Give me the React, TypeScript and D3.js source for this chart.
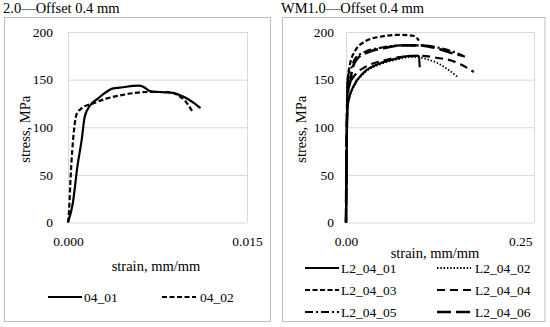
import React, { useEffect, useRef } from 'react';
import * as d3 from 'd3';

// left panel: 2.0 - Offset 0.4 mm
const strain0401 = [0, 0.0004, 0.0008, 0.00115, 0.0014, 0.0018, 0.0025, 0.0031, 0.0037, 0.0046, 0.0059, 0.0063, 0.0069, 0.0077, 0.0088, 0.0095, 0.01, 0.0106, 0.0111];
const stress0401 = [0, 20, 60, 87, 111, 122, 130, 136, 140.5, 142, 143.6, 142.6, 138, 137, 136, 133, 130, 125, 120];
const strain0402 = [0, 0.0001, 0.00022, 0.00036, 0.00053, 0.00073, 0.00115, 0.0021, 0.0032, 0.0046, 0.0066, 0.0083, 0.009, 0.0094, 0.0098, 0.0101, 0.0105];
const stress0402 = [0, 15, 48, 76, 100, 114, 120, 125, 130, 134, 137, 137, 135, 132, 128, 123, 115];

// right panel: WM1.0 - Offset 0.4 mm
const strainL01 = [0, 0.001, 0.002, 0.004, 0.01, 0.023, 0.045, 0.067, 0.085, 0.097, 0.098];
const stressL01 = [0, 80, 120, 130, 143, 157, 167, 172, 175, 175, 163];
const strainL02 = [0, 0.001, 0.002, 0.004, 0.01, 0.023, 0.045, 0.067, 0.09, 0.105, 0.12, 0.135, 0.148];
const stressL02 = [0, 80, 120, 129, 142, 156, 166, 171, 174, 172, 168, 161, 153];
const strainL03 = [0, 0.001, 0.0025, 0.005, 0.012, 0.025, 0.045, 0.07, 0.09, 0.097];
const stressL03 = [0, 90, 150, 165, 180, 190, 195, 197, 196, 191];
const strainL04 = [0, 0.001, 0.0025, 0.005, 0.012, 0.025, 0.05, 0.075, 0.1, 0.12, 0.14, 0.155, 0.17];
const stressL04 = [0, 90, 135, 145, 155, 163, 170, 174, 175, 173, 170, 165, 158];
const strainL05 = [0, 0.001, 0.003, 0.006, 0.012, 0.025, 0.05, 0.075, 0.1, 0.12, 0.14, 0.158];
const stressL05 = [0, 100, 155, 160, 172, 179, 184, 186, 186, 184, 180, 174];
const strainL06 = [0, 0.001, 0.003, 0.005, 0.008, 0.015, 0.03, 0.05, 0.075, 0.098, 0.12, 0.14, 0.155];
const stressL06 = [0, 100, 153, 145, 160, 172, 179, 183, 186, 186, 183, 178, 175];

const stressTicks = [0, 50, 100, 150, 200];
const leftStrainTicks = [0, 0.015];
const rightStrainTicks = [0, 0.25];

interface Series {
  name: string;
  strain: number[];
  stress: number[];
  dash: string;
  width: number;
}

interface Panel {
  title: string;
  box: [number, number, number, number];
  plot: { left: number; right: number; top: number; bottom: number };
  xTicks: number[];
  xFormat: string;
  yPad: number;
  lastAnchor: string;
  yTitleX: number;
  xTitle: [number, number];
  series: Series[];
  legend: [number, number, number][]; // line start x, text x, y
  legendLen: number;
}

const panels: Panel[] = [
  {
    title: '2.0\u2014Offset 0.4 mm',
    box: [4.5, 17.5, 266, 304],
    plot: { left: 68, right: 247, top: 32, bottom: 222.5 },
    xTicks: leftStrainTicks,
    xFormat: '.3f',
    yPad: 15,
    lastAnchor: 'middle',
    yTitleX: 25,
    xTitle: [156, 271],
    series: [
      { name: '04_01', strain: strain0401, stress: stress0401, dash: '', width: 2.2 },
      { name: '04_02', strain: strain0402, stress: stress0402, dash: '5,2.5', width: 2.2 },
    ],
    legend: [
      [48, 84, 297],
      [162, 200, 297],
    ],
    legendLen: 34,
  },
  {
    title: 'WM1.0\u2014Offset 0.4 mm',
    box: [282.5, 17.5, 262.5, 304],
    plot: { left: 346, right: 534, top: 32, bottom: 222.5 },
    xTicks: rightStrainTicks,
    xFormat: '.2f',
    yPad: 12,
    lastAnchor: 'end',
    yTitleX: 301,
    xTitle: [435, 258],
    series: [
      { name: 'L2_04_01', strain: strainL01, stress: stressL01, dash: '', width: 2.2 },
      { name: 'L2_04_02', strain: strainL02, stress: stressL02, dash: '1.5,1.8', width: 1.8 },
      { name: 'L2_04_03', strain: strainL03, stress: stressL03, dash: '5,2.5', width: 2.2 },
      { name: 'L2_04_04', strain: strainL04, stress: stressL04, dash: '8,5', width: 2.2 },
      { name: 'L2_04_05', strain: strainL05, stress: stressL05, dash: '8,3,2,3', width: 2.2 },
      { name: 'L2_04_06', strain: strainL06, stress: stressL06, dash: '14,5', width: 2.6 },
    ],
    legend: [
      [305, 341, 268],
      [437, 475, 268],
      [305, 341, 290],
      [437, 475, 290],
      [305, 341, 312],
      [437, 475, 312],
    ],
    legendLen: 34,
  },
];

const FONT = '"Liberation Serif", "Times New Roman", serif';

const App: React.FC = () => {
  const ref = useRef<SVGSVGElement>(null);

  useEffect(() => {
    const svg = d3.select(ref.current!);
    svg.selectAll('*').remove();
    svg.append('rect').attr('width', 550).attr('height', 327).attr('fill', '#fff');

    panels.forEach((p) => {
      const g = svg.append('g').style('font-family', FONT);

      g.append('rect')
        .attr('x', p.box[0])
        .attr('y', p.box[1])
        .attr('width', p.box[2])
        .attr('height', p.box[3])
        .attr('fill', 'none')
        .attr('stroke', '#bfbfbf')
        .attr('stroke-width', 1);

      g.append('text')
        .attr('x', p.box[0] - 1.5)
        .attr('y', 13)
        .attr('font-size', 14.5)
        .attr('fill', '#000')
        .text(p.title);

      const x = d3
        .scaleLinear()
        .domain([p.xTicks[0], p.xTicks[p.xTicks.length - 1]])
        .range([p.plot.left, p.plot.right]);
      const y = d3.scaleLinear().domain([0, 200]).range([p.plot.bottom, p.plot.top]);
      const w = p.plot.right - p.plot.left;
      const h = p.plot.bottom - p.plot.top;

      // gridlines
      const yGrid = g
        .append('g')
        .attr('transform', `translate(${p.plot.left},0)`)
        .call(d3.axisLeft(y).tickValues(stressTicks).tickSize(-w).tickFormat(() => ''));
      yGrid.select('.domain').remove();
      yGrid.selectAll('line').attr('stroke', '#d9d9d9');

      const xGrid = g
        .append('g')
        .attr('transform', `translate(0,${p.plot.bottom})`)
        .call(d3.axisBottom(x).tickValues(p.xTicks).tickSize(-h).tickFormat(() => ''));
      xGrid.select('.domain').remove();
      xGrid.selectAll('line').attr('stroke', '#d9d9d9');

      // y labels
      const yAxis = g
        .append('g')
        .attr('transform', `translate(${p.plot.left},0)`)
        .call(d3.axisLeft(y).tickValues(stressTicks).tickSize(0).tickPadding(p.yPad));
      yAxis.select('.domain').remove();
      yAxis.selectAll('text').attr('font-size', 13.5).attr('font-family', FONT).attr('fill', '#000');

      // x labels
      const xAxis = g
        .append('g')
        .attr('transform', `translate(0,${p.plot.bottom})`)
        .call(
          d3
            .axisBottom(x)
            .tickValues(p.xTicks)
            .tickSize(0)
            .tickPadding(14)
            .tickFormat((d) => d3.format(p.xFormat)(d as number))
        );
      xAxis.select('.domain').remove();
      xAxis
        .selectAll('text')
        .attr('font-size', 13.5)
        .attr('font-family', FONT)
        .attr('fill', '#000')
        .attr('text-anchor', (_d, i) => (i === p.xTicks.length - 1 ? p.lastAnchor : 'middle'))
        .attr('dx', (_d, i) => (i === p.xTicks.length - 1 && p.lastAnchor === 'end' ? -2 : 0));

      // axis titles
      g.append('text')
        .attr('transform', `translate(${p.yTitleX},${(p.plot.top + p.plot.bottom) / 2 + 2}) rotate(-90)`)
        .attr('text-anchor', 'middle')
        .attr('dy', '0.35em')
        .attr('font-size', 14.5)
        .text('stress, MPa');
      g.append('text')
        .attr('x', p.xTitle[0])
        .attr('y', p.xTitle[1])
        .attr('text-anchor', 'middle')
        .attr('font-size', 14.5)
        .text('strain, mm/mm');

      // series
      const line = d3
        .line<[number, number]>()
        .x((d) => x(d[0]))
        .y((d) => y(d[1]))
        .curve(d3.curveMonotoneX);
      p.series.forEach((s) => {
        const pts = s.strain.map((v, i) => [v, s.stress[i]] as [number, number]);
        g.append('path')
          .attr('d', line(pts))
          .attr('fill', 'none')
          .attr('stroke', '#000')
          .attr('stroke-width', s.width)
          .attr('stroke-dasharray', s.dash || null)
          .attr('stroke-linejoin', 'round');
      });

      // legend
      p.series.forEach((s, i) => {
        const [lx, tx, ly] = p.legend[i];
        g.append('line')
          .attr('x1', lx)
          .attr('x2', lx + p.legendLen)
          .attr('y1', ly)
          .attr('y2', ly)
          .attr('stroke', '#000')
          .attr('stroke-width', s.width)
          .attr('stroke-dasharray', s.dash || null);
        g.append('text')
          .attr('x', tx)
          .attr('y', ly)
          .attr('dy', '0.35em')
          .attr('font-size', 13.5)
          .text(s.name);
      });
    });
  }, []);

  return (
    <svg
      ref={ref}
      width={550}
      height={327}
      style={{ position: 'absolute', left: 0, top: 0 }}
    />
  );
};

export default App;
